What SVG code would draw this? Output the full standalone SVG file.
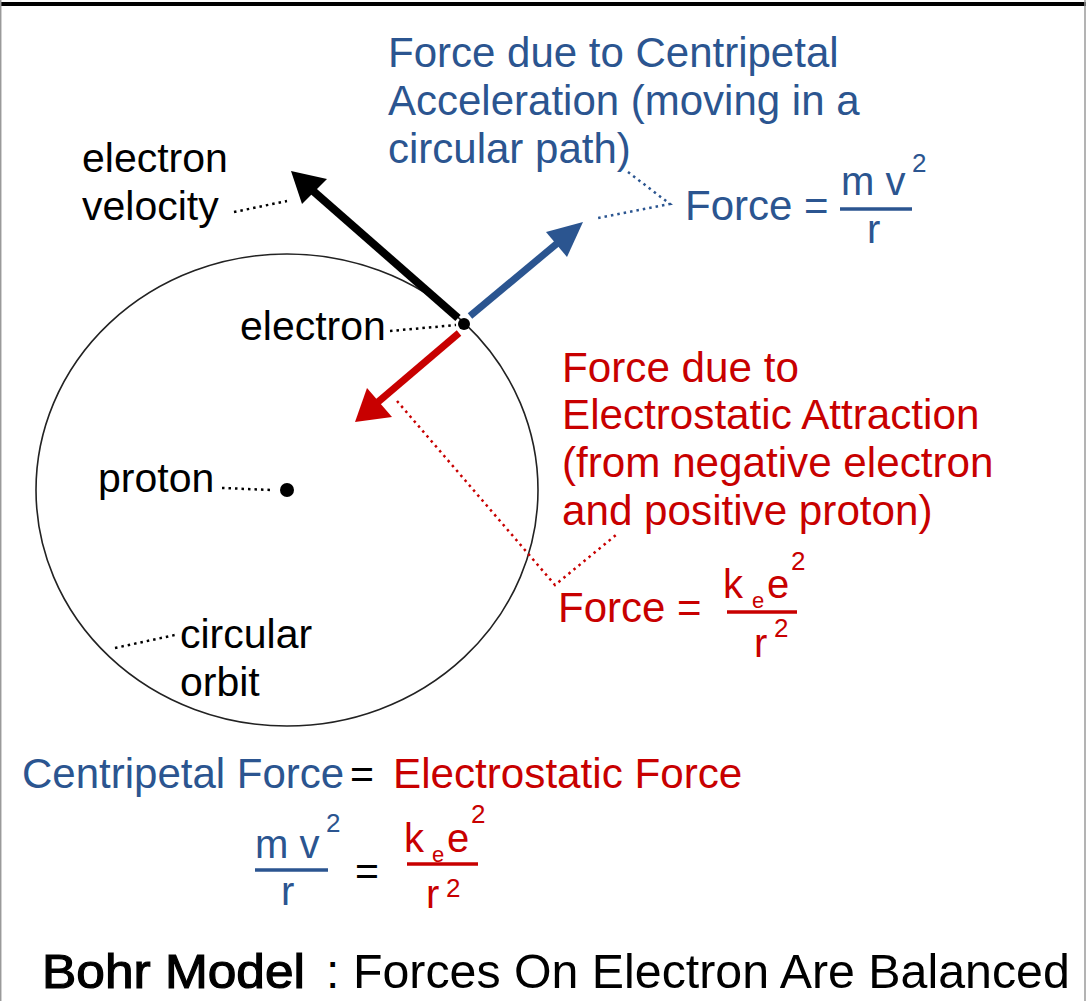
<svg xmlns="http://www.w3.org/2000/svg" width="1086" height="1001" viewBox="0 0 1086 1001">
<style>
text{font-family:"Liberation Sans",Arial,sans-serif;font-size:41px}
.k{fill:#000}
.b{fill:#2B5590;font-size:42px}
.r{fill:#C80000;font-size:42.2px}
.sup{font-size:26px}
.sub{font-size:22px}
.dk{stroke:#000;stroke-width:2.5;stroke-dasharray:2.5 4;fill:none}
.db{stroke:#2B5590;stroke-width:2.5;stroke-dasharray:2.5 4;fill:none}
.dr{stroke:#C80000;stroke-width:2.5;stroke-dasharray:2.5 4;fill:none}
</style>
<rect x="0" y="0" width="1086" height="1001" fill="#fff"/>
<rect x="0" y="2" width="1086" height="4" fill="#000"/>
<line x1="0.7" y1="0" x2="0.7" y2="1001" stroke="#9a9a9a" stroke-width="1.5"/>
<line x1="1085" y1="0" x2="1085" y2="1001" stroke="#9a9a9a" stroke-width="1.5"/>

<g id="orbit">
<ellipse cx="287" cy="490" rx="251" ry="236" fill="none" stroke="#222" stroke-width="1.6"/>
</g>
<g id="proton"><circle cx="287" cy="490" r="7" fill="#000"/></g>

<g id="connectors">
<line x1="458" y1="318" x2="312" y2="190" stroke="#000" stroke-width="8"/>
<polygon points="291,171 302,204 327,179" fill="#000"/>
<line x1="470" y1="316" x2="560" y2="241" stroke="#2B5590" stroke-width="7"/>
<polygon points="583,222 546,232 567,257" fill="#2B5590"/>
<line x1="459" y1="333" x2="378" y2="402" stroke="#C80000" stroke-width="7"/>
<polygon points="355,422 367,388 392,417" fill="#C80000"/>
<polyline class="dk" points="234,212 287,201"/>
<polyline class="dk" points="390,331 456,325"/>
<polyline class="dk" points="222,488 272,490"/>
<polyline class="dk" points="115,648 175,635"/>
<polyline class="db" points="628,172 670,204 598,218"/>
<polyline class="dr" points="397,401 555,585 616,535"/>
</g>

<g id="electron"><circle cx="464" cy="324" r="6" fill="#000"/></g>

<g id="labels">
<text class="k" x="82" y="172">electron</text>
<text class="k" x="82" y="220">velocity</text>
<text class="k" x="240" y="340">electron</text>
<text class="k" x="98" y="492">proton</text>
<text class="k" x="180" y="648">circular</text>
<text class="k" x="180" y="696">orbit</text>
</g>

<g id="centripetal-label">
<text class="b" x="388" y="67">Force due to Centripetal</text>
<text class="b" x="388" y="115">Acceleration (moving in a</text>
<text class="b" x="388" y="163">circular path)</text>
<text class="b" x="685" y="220">Force =</text>
<text class="b" x="841" y="195" style="font-size:40px">m v</text>
<text class="b sup" x="912" y="172">2</text>
<line x1="840" y1="209" x2="912" y2="209" stroke="#2B5590" stroke-width="3.5"/>
<text class="b" x="867" y="243" style="font-size:40px">r</text>
</g>

<g id="electrostatic-label">
<text class="r" x="562" y="382">Force due to</text>
<text class="r" x="562" y="429">Electrostatic Attraction</text>
<text class="r" x="562" y="477">(from negative electron</text>
<text class="r" x="562" y="525">and positive proton)</text>
<text class="r" x="558" y="622" style="font-size:42px">Force =</text>
<text class="r" x="723" y="598" style="font-size:40px">k</text>
<text class="r sub" x="752" y="608">e</text>
<text class="r" x="767" y="598" style="font-size:40px">e</text>
<text class="r sup" x="791" y="570">2</text>
<line x1="727" y1="612" x2="797" y2="612" stroke="#C80000" stroke-width="3.5"/>
<text class="r" x="754" y="657" style="font-size:40px">r</text>
<text class="r sup" x="774" y="637">2</text>
</g>

<g id="balance">
<text class="b" x="22" y="788">Centripetal Force</text>
<text class="k" x="350" y="788">=</text>
<text class="r" x="393" y="788">Electrostatic Force</text>
<text class="b" x="255" y="858" style="font-size:40px">m v</text>
<text class="b sup" x="326" y="832">2</text>
<line x1="255" y1="870" x2="328" y2="870" stroke="#2B5590" stroke-width="3.5"/>
<text class="b" x="281" y="905" style="font-size:40px">r</text>
<text class="k" x="355" y="885">=</text>
<text class="r" x="404" y="852" style="font-size:40px">k</text>
<text class="r sub" x="432" y="862">e</text>
<text class="r" x="447" y="852" style="font-size:40px">e</text>
<text class="r sup" x="471" y="823">2</text>
<line x1="407" y1="864" x2="478" y2="864" stroke="#C80000" stroke-width="3.5"/>
<text class="r" x="426" y="908" style="font-size:40px">r</text>
<text class="r sup" x="446" y="897">2</text>
</g>

<g id="title">
<text class="k" x="42" y="988" style="font-size:48px;stroke:#000;stroke-width:1.2" textLength="263" lengthAdjust="spacingAndGlyphs">Bohr Model</text>
<text class="k" x="326" y="988" style="font-size:48px">:</text>
<text class="k" x="353" y="988" style="font-size:48.3px">Forces On Electron Are Balanced</text>
</g>
</svg>
